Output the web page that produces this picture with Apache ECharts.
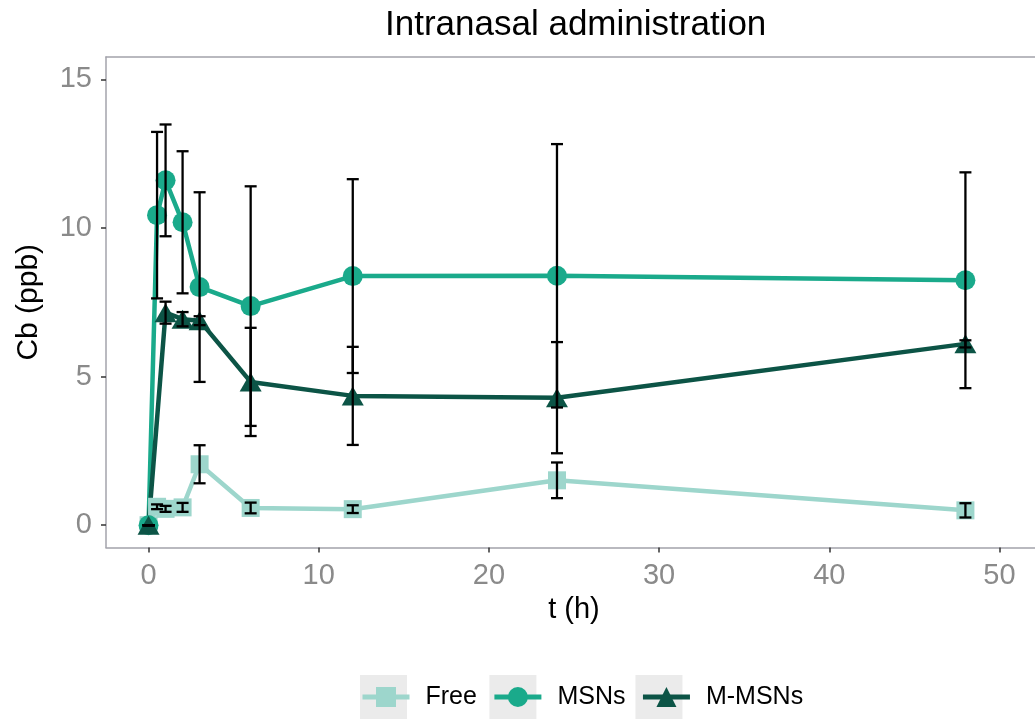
<!DOCTYPE html>
<html>
<head>
<meta charset="utf-8">
<script src="https://cdn.jsdelivr.net/npm/echarts@6/dist/echarts.min.js"></script>
<style>
html,body{margin:0;padding:0;background:#fff;}
#chart{width:1035px;height:719px;}
</style>
</head>
<body>
<div id="chart"></div>
<script>
// ---- data ----
var times = [0, 0.5, 1, 2, 3, 6, 12, 24, 48];
var freeMean = [0, 0.62, 0.55, 0.60, 2.05, 0.58, 0.54, 1.51, 0.50];
var freeSd   = [0, 0.08, 0.10, 0.15, 0.64, 0.18, 0.13, 0.60, 0.24];
var msnMean  = [0, 10.43, 11.60, 10.19, 8.01, 7.37, 8.38, 8.39, 8.24];
var msnSd    = [0, 2.80, 1.88, 2.39, 3.19, 4.03, 3.26, 4.43, 3.63];
var mmsnMean = [0, null, 7.15, 6.93, 6.88, 4.82, 4.35, 4.29, 6.10];
var mmsnSd   = [0, null, 0.37, 0.24, 0.15, 1.82, 1.65, 1.87, 0.12];
var groupNames = ['Free', 'MSNs', 'M-MSNs'];
var xTicks = [0, 10, 20, 30, 40, 50];
var yTicks = [0, 5, 10, 15];

var colors = ['#9dd6cc', '#1aaa8b', '#0c5446'];
var FONT = 'Liberation Sans, Arial, sans-serif';
var AXIS_GREY = '#a3a3ab';

function pairs(m) {
  var out = [];
  for (var i = 0; i < times.length; i++) {
    if (m[i] !== null) out.push([times[i], m[i]]);
  }
  return out;
}
function errs(m, s) {
  var out = [];
  for (var i = 0; i < times.length; i++) {
    if (m[i] !== null) out.push([times[i], m[i] - s[i], m[i] + s[i]]);
  }
  return out;
}
var errData = errs(freeMean, freeSd).concat(errs(msnMean, msnSd)).concat(errs(mmsnMean, mmsnSd));

var chart = echarts.init(document.getElementById('chart'), null, {renderer: 'canvas'});

function lineSeries(name, data, color, symbol, size) {
  return {
    type: 'line', name: name, data: data,
    symbol: symbol, symbolSize: size,
    showAllSymbol: true,
    lineStyle: {color: color, width: 4.5},
    itemStyle: {color: color, borderWidth: 0},
    z: 2
  };
}

var option = {
  animation: false,
  backgroundColor: '#ffffff',
  title: {
    text: 'Intranasal administration',
    left: 380, top: 3,
    textStyle: {fontFamily: FONT, fontSize: 35, fontWeight: 'normal', color: '#000'}
  },
  grid: {
    left: 106, top: 57, right: -7, bottom: 171.5,
    show: false,
    containLabel: false,
    outerBoundsMode: 'none'
  },
  legend: [
    {
      data: groupNames, left: 360, top: 675, orient: 'horizontal', padding: 0,
      itemWidth: 47, itemHeight: 44, itemGap: 15,
      icon: 'rect', selectedMode: false,
      itemStyle: {color: '#ebebeb', borderWidth: 0},
      textStyle: {fontFamily: FONT, fontSize: 25, color: 'rgba(0,0,0,0)', padding: [0, 0, 0, 11]},
      z: 4
    },
    {
      data: groupNames, left: 360, top: 684.5, orient: 'horizontal', padding: 0,
      itemWidth: 47, itemHeight: 25, itemGap: 15,
      selectedMode: false,
      lineStyle: {width: 5},
      textStyle: {fontFamily: FONT, fontSize: 25, color: '#000', padding: [0, 0, 0, 11]},
      z: 5
    }
  ],
  xAxis: [
    {
      type: 'value', min: -2.5, max: 52.5, position: 'bottom',
      name: 't (h)', nameLocation: 'middle', nameGap: 47,
      nameTextStyle: {fontFamily: FONT, fontSize: 29, color: '#000'},
      axisLine: {show: true, onZero: false, lineStyle: {color: AXIS_GREY, width: 1.5}},
      axisTick: {show: true, customValues: xTicks, length: 5, lineStyle: {color: '#333', width: 1.5}},
      axisLabel: {customValues: xTicks, fontFamily: FONT, fontSize: 29, color: '#8a8a8a', margin: 14},
      splitLine: {show: false}
    },
    {
      type: 'value', min: -2.5, max: 52.5, position: 'top',
      axisLine: {show: true, onZero: false, lineStyle: {color: AXIS_GREY, width: 1.5}},
      axisTick: {show: false},
      axisLabel: {show: false},
      splitLine: {show: false}
    }
  ],
  yAxis: {
    type: 'value', min: -0.75, max: 15.75, position: 'left',
    name: 'Cb (ppb)', nameLocation: 'middle', nameGap: 62,
    nameTextStyle: {fontFamily: FONT, fontSize: 30, color: '#000'},
    axisLine: {show: true, onZero: false, lineStyle: {color: AXIS_GREY, width: 1.5}},
    axisTick: {show: true, customValues: yTicks, length: 5, lineStyle: {color: '#333', width: 1.5}},
    axisLabel: {customValues: yTicks, fontFamily: FONT, fontSize: 29, color: '#8a8a8a', margin: 14},
    splitLine: {show: false}
  },
  series: [
    lineSeries('Free', pairs(freeMean), colors[0], 'rect', 18),
    lineSeries('MSNs', pairs(msnMean), colors[1], 'circle', 20),
    lineSeries('M-MSNs', pairs(mmsnMean), colors[2], 'triangle', [22, 19]),
    {
      type: 'custom', name: 'errorbars', data: errData, z: 3,
      encode: {x: 0, y: [1, 2]},
      renderItem: function (params, api) {
        var x = api.value(0), lo = api.value(1), hi = api.value(2);
        var pLo = api.coord([x, lo]), pHi = api.coord([x, hi]);
        var hw = 6;
        var st = {stroke: '#000', lineWidth: 2.3, fill: null};
        return {
          type: 'group',
          children: [
            {type: 'line', shape: {x1: pLo[0], y1: pLo[1], x2: pHi[0], y2: pHi[1]}, style: st},
            {type: 'line', shape: {x1: pHi[0] - hw, y1: pHi[1], x2: pHi[0] + hw, y2: pHi[1]}, style: st},
            {type: 'line', shape: {x1: pLo[0] - hw, y1: pLo[1], x2: pLo[0] + hw, y2: pLo[1]}, style: st}
          ]
        };
      }
    }
  ]
};
chart.setOption(option);
</script>
</body>
</html>
